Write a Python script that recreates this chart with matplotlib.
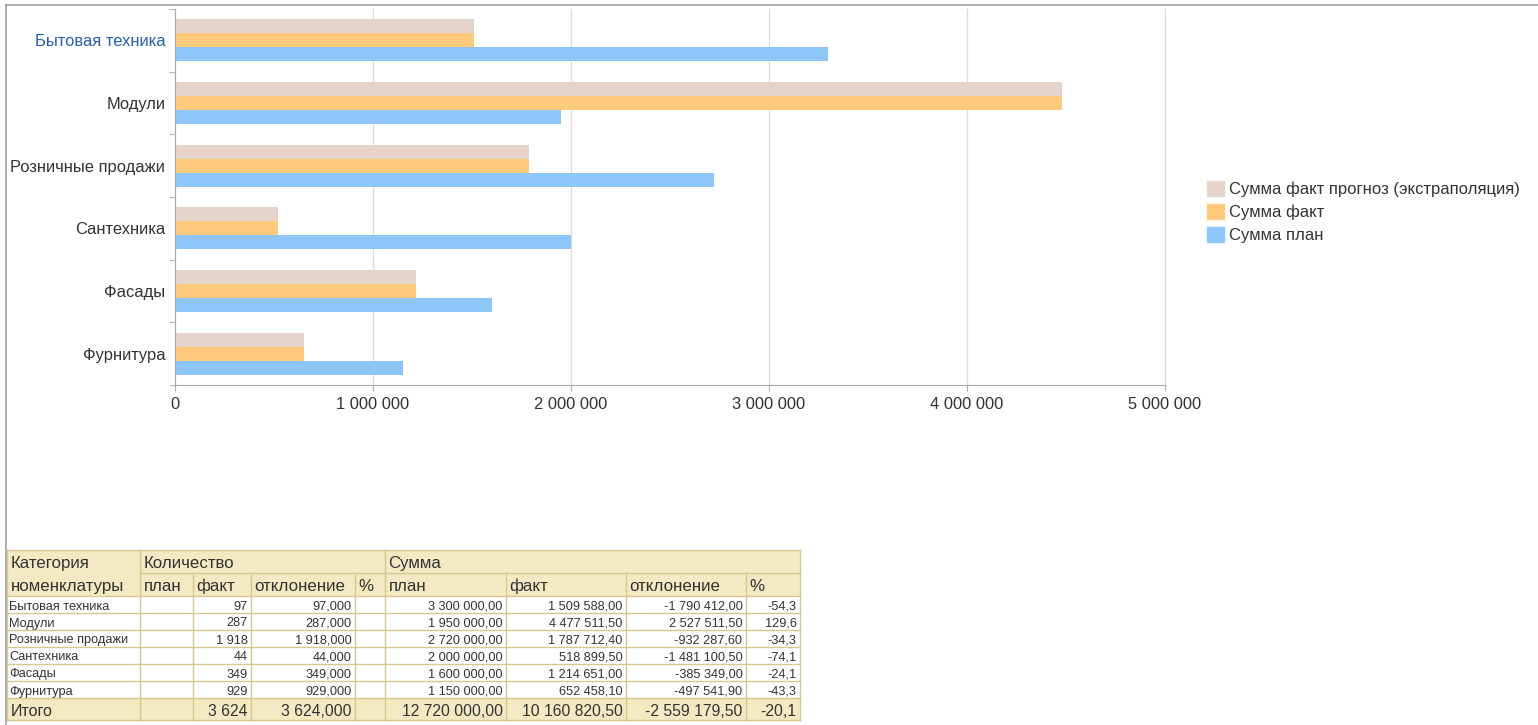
import matplotlib.pyplot as plt
from matplotlib.patches import Patch, Rectangle
import numpy as np

plt.rcParams['font.family'] = ['Liberation Sans', 'DejaVu Sans']

# ---- data ----
categories = ['Бытовая техника', 'Модули', 'Розничные продажи',
              'Сантехника', 'Фасады', 'Фурнитура']
sum_plan = [3300000.00, 1950000.00, 2720000.00, 2000000.00, 1600000.00, 1150000.00]
sum_fact = [1509588.00, 4477511.50, 1787712.40, 518899.50, 1214651.00, 652458.10]
# forecast bars (same length as the fact bars)
sum_forecast = [1509588.00, 4477511.50, 1787712.40, 518899.50, 1214651.00, 652458.10]

qty_plan = ['', '', '', '', '', '']
qty_fact = ['97', '287', '1 918', '44', '349', '929']
qty_dev = ['97,000', '287,000', '1 918,000', '44,000', '349,000', '929,000']
qty_pct = ['', '', '', '', '', '']
sum_plan_txt = ['3 300 000,00', '1 950 000,00', '2 720 000,00', '2 000 000,00',
                '1 600 000,00', '1 150 000,00']
sum_fact_txt = ['1 509 588,00', '4 477 511,50', '1 787 712,40', '518 899,50',
                '1 214 651,00', '652 458,10']
sum_dev_txt = ['-1 790 412,00', '2 527 511,50', '-932 287,60', '-1 481 100,50',
               '-385 349,00', '-497 541,90']
sum_pct_txt = ['-54,3', '129,6', '-34,3', '-74,1', '-24,1', '-43,3']
total_row = ['Итого', '', '3 624', '3 624,000', '', '12 720 000,00',
             '10 160 820,50', '-2 559 179,50', '-20,1']

legend_labels = ['Сумма факт прогноз (экстраполяция)', 'Сумма факт', 'Сумма план']
xticks = [0, 1000000, 2000000, 3000000, 4000000, 5000000]

col_forecast = '#E6D3C9'
col_fact = '#FFC97E'
col_plan = '#8EC7F7'
text_col = '#333333'

W, H = 1538, 725
fig = plt.figure(figsize=(W / 100, H / 100), dpi=100)

# ---- bar chart ----
ax = fig.add_axes([175 / W, 1 - 385 / H, 990 / W, 376 / H])
y = np.arange(len(categories))
bh = 0.223
ax.barh(y - bh, sum_forecast, height=bh, color=col_forecast, zorder=2)
ax.barh(y, sum_fact, height=bh, color=col_fact, zorder=2)
ax.barh(y + bh, sum_plan, height=bh, color=col_plan, zorder=2)

ax.set_xlim(0, 5000000)
ax.set_ylim(len(categories) - 0.5, -0.5)
ax.set_xticks(xticks)
ax.set_xticklabels([f'{v:,}'.replace(',', ' ') for v in xticks])
ax.set_yticks(y)
ax.set_yticklabels(categories)
ax.set_yticks(np.arange(-0.5, len(categories)), minor=True)
ax.tick_params(axis='y', which='major', length=0, pad=7, labelsize=11.9,
               labelcolor=text_col)
ax.tick_params(axis='y', which='minor', length=4, color='#AAAAAA')
ax.tick_params(axis='x', length=4, color='#AAAAAA', pad=5, labelsize=11.9,
               labelcolor=text_col)
ax.get_yticklabels()[0].set_color('#2B5DA8')
ax.grid(axis='x', color='#DDDDDD', linewidth=1, zorder=0)
for gl in ax.get_xgridlines():
    gl.set_clip_on(False)
for s in ['top', 'right']:
    ax.spines[s].set_visible(False)
for s in ['left', 'bottom']:
    ax.spines[s].set_color('#AAAAAA')

handles = [Patch(color=c) for c in [col_forecast, col_fact, col_plan]]
fig.legend(handles, legend_labels, loc='upper left',
           bbox_to_anchor=(1207 / W, 1 - 181 / H), frameon=False,
           fontsize=12, handlelength=1.0, handleheight=1.0,
           handletextpad=0.3, labelspacing=0.42, borderpad=0, borderaxespad=0,
           labelcolor=text_col)

# ---- page frame and table (pixel coordinates) ----
ov = fig.add_axes([0, 0, 1, 1], zorder=-1)
ov.set_xlim(0, W)
ov.set_ylim(H, 0)
ov.axis('off')
ov.plot([6, W], [5, 5], color='#A0A0A0', lw=1.2)
ov.plot([6, 6], [5, H], color='#A0A0A0', lw=1.2)

cx = [7, 139.5, 192.5, 250.5, 354.5, 384.5, 505.5, 625.5, 745.5, 799.5]
ry = [549.5, 572.5, 595.5, 612.5, 629.5, 646.5, 663.5, 680.5, 698, 720]
head_bg = '#F3EAC4'
line_c = '#D6C78E'

# header background
ov.add_patch(Rectangle((cx[0], ry[0]), cx[-1] - cx[0], ry[2] - ry[0],
                       facecolor=head_bg, edgecolor='none'))
ov.add_patch(Rectangle((cx[0], ry[8]), cx[-1] - cx[0], ry[9] - ry[8],
                       facecolor=head_bg, edgecolor='none'))

lw = 1
# horizontal lines
ov.plot([cx[0], cx[-1]], [ry[0], ry[0]], color=line_c, lw=lw)
ov.plot([cx[1], cx[-1]], [ry[1], ry[1]], color=line_c, lw=lw)
for r in ry[2:]:
    ov.plot([cx[0], cx[-1]], [r, r], color=line_c, lw=lw)
# vertical lines
for i, c in enumerate(cx):
    top = ry[0] if i in (0, 1, 5, 9) else ry[1]
    ov.plot([c, c], [top, ry[-1]], color=line_c, lw=lw)

hfs = 12.2
# header texts
ov.text(cx[0] + 4, (ry[0] + ry[1]) / 2 + 1, 'Категория', fontsize=hfs,
        color=text_col, va='center_baseline')
ov.text(cx[0] + 4, (ry[1] + ry[2]) / 2 + 1, 'номенклатуры', fontsize=hfs,
        color=text_col, va='center_baseline')
ov.text(cx[1] + 4, (ry[0] + ry[1]) / 2 + 1, 'Количество', fontsize=hfs,
        color=text_col, va='center_baseline')
ov.text(cx[5] + 4, (ry[0] + ry[1]) / 2 + 1, 'Сумма', fontsize=hfs,
        color=text_col, va='center_baseline')
sub = ['план', 'факт', 'отклонение', '%', 'план', 'факт', 'отклонение', '%']
for i, s in enumerate(sub):
    ov.text(cx[i + 1] + 4, (ry[1] + ry[2]) / 2 + 1, s, fontsize=hfs,
            color=text_col, va='center_baseline')

# data rows
columns = [categories, qty_plan, qty_fact, qty_dev, qty_pct,
           sum_plan_txt, sum_fact_txt, sum_dev_txt, sum_pct_txt]
for r in range(len(categories)):
    yc = (ry[r + 2] + ry[r + 3]) / 2 + 1
    for c, col in enumerate(columns):
        if c == 0:
            ov.text(cx[0] + 2, yc, col[r], fontsize=9.2, color=text_col,
                    va='center_baseline', ha='left')
        else:
            ov.text(cx[c + 1] - 3, yc, col[r], fontsize=9.2, color=text_col,
                    va='center_baseline', ha='right')

# total row
yc = (ry[8] + ry[9]) / 2 + 1
for c, val in enumerate(total_row):
    if c == 0:
        ov.text(cx[0] + 4, yc, val, fontsize=11.5, color=text_col,
                va='center_baseline')
    else:
        ov.text(cx[c + 1] - 3, yc, val, fontsize=11.3, color=text_col,
                va='center_baseline', ha='right')

fig.savefig('out.png', dpi=100)
